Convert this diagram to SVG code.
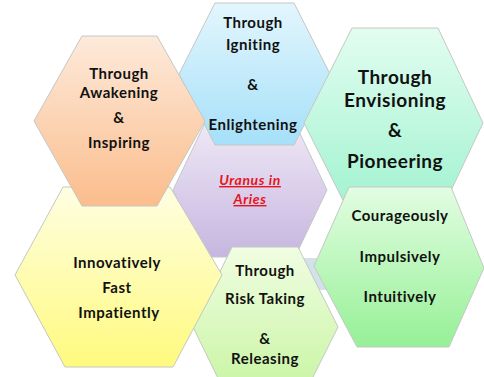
<svg xmlns="http://www.w3.org/2000/svg" width="484" height="377" viewBox="0 0 484 377">
<defs>
<linearGradient id="gOrange" x1="0" y1="0" x2="0" y2="1"><stop offset="0" stop-color="#fdeadb"/><stop offset="1" stop-color="#fbbd8c"/></linearGradient>
<linearGradient id="gBlue" x1="0" y1="0" x2="0" y2="1"><stop offset="0" stop-color="#e3f6fd"/><stop offset="1" stop-color="#a5e0f9"/></linearGradient>
<linearGradient id="gTeal" x1="0" y1="0" x2="0" y2="1"><stop offset="0" stop-color="#e2fdf0"/><stop offset="1" stop-color="#9ef2cf"/></linearGradient>
<linearGradient id="gPurple" x1="0" y1="0" x2="0" y2="1"><stop offset="0" stop-color="#efe8f6"/><stop offset="1" stop-color="#c6b6e0"/></linearGradient>
<linearGradient id="gYellow" x1="0" y1="0" x2="0" y2="1"><stop offset="0" stop-color="#fefee2"/><stop offset="1" stop-color="#fffa7e"/></linearGradient>
<linearGradient id="gLime" x1="0" y1="0" x2="0" y2="1"><stop offset="0" stop-color="#f0fde2"/><stop offset="1" stop-color="#c4f49c"/></linearGradient>
<linearGradient id="gGreen" x1="0" y1="0" x2="0" y2="1"><stop offset="0" stop-color="#e2fde2"/><stop offset="1" stop-color="#96f096"/></linearGradient>
</defs>
<style>
.hex{stroke:#c4c8c4;stroke-width:1}
.t{font-family:Lato,"Liberation Sans",sans-serif;font-weight:bold;font-size:15px;letter-spacing:0.5px;fill:#111;text-anchor:middle}
.big{font-size:19px;letter-spacing:0.5px}
.red{font-family:Lato,"Liberation Sans",sans-serif;font-weight:bold;font-style:italic;font-size:14px;letter-spacing:0.6px;fill:#e8141c;text-anchor:middle;text-decoration:underline}
</style>
<rect width="484" height="377" fill="#ffffff"/>
<g id="purple">
<polygon class="hex" points="205,123 295,123 327,190 295,257 205,257 173,190" fill="url(#gPurple)"/>
<text class="red" x="250" y="185">Uranus in</text>
<text class="red" x="250" y="204">Aries</text>
</g>
<g id="blue">
<polygon class="hex" points="215,3 294,3 330,74 294,145 215,145 179,74" fill="url(#gBlue)"/>
<text class="t" x="253" y="28">Through</text>
<text class="t" x="253" y="50">Igniting</text>
<text class="t" x="253" y="90">&amp;</text>
<text class="t" x="253" y="130">Enlightening</text>
</g>
<g id="teal">
<polygon class="hex" points="352,28 438,28 483,123 438,218 352,218 304,123" fill="url(#gTeal)"/>
<text class="t big" x="395" y="84">Through</text>
<text class="t big" x="395" y="107">Envisioning</text>
<text class="t big" x="395" y="137">&amp;</text>
<text class="t big" x="395" y="168">Pioneering</text>
</g>
<g id="shade">
<polygon points="300,258 330,258 330,290 300,290" fill="#d3e2ea"/>
</g>
<g id="green">
<polygon class="hex" points="349,187 451,187 484,268 449,347 357,347 314,266" fill="url(#gGreen)"/>
<text class="t" x="400" y="221">Courageously</text>
<text class="t" x="400" y="262">Impulsively</text>
<text class="t" x="400" y="302">Intuitively</text>
</g>
<g id="lime">
<polygon class="hex" points="232,247 298,247 338,327 298,407 232,407 193,327" fill="url(#gLime)"/>
<text class="t" x="265" y="276">Through</text>
<text class="t" x="265" y="304">Risk Taking</text>
<text class="t" x="265" y="344">&amp;</text>
<text class="t" x="265" y="364">Releasing</text>
</g>
<g id="yellow">
<polygon class="hex" points="63,187 170,187 222,275 173,367 65,367 15,275" fill="url(#gYellow)"/>
<text class="t" x="117" y="268">Innovatively</text>
<text class="t" x="117" y="293">Fast</text>
<text class="t" x="119" y="318">Impatiently</text>
</g>
<g id="orange">
<polygon class="hex" points="82,36 157,36 205,121 157,206 82,206 34,121" fill="url(#gOrange)"/>
<text class="t" x="119" y="79">Through</text>
<text class="t" x="119" y="98">Awakening</text>
<text class="t" x="119" y="123">&amp;</text>
<text class="t" x="119" y="148">Inspiring</text>
</g>
<g id="connectors"></g>
</svg>
